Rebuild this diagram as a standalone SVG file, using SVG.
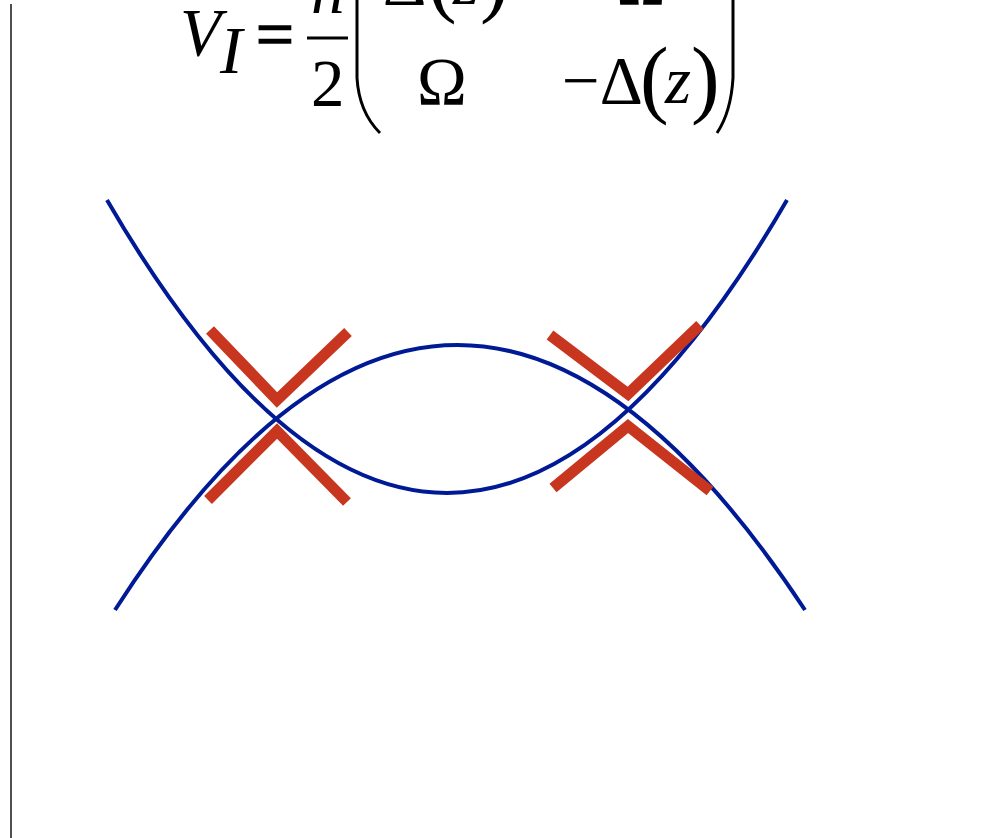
<svg xmlns="http://www.w3.org/2000/svg" width="1005" height="838" viewBox="0 0 1005 838">
<style>
.eq{font-family:"Liberation Serif","Times New Roman",serif;font-size:67px;fill:#000}
.it{font-style:italic}
.pa{font-size:86px}
.curve{fill:none;stroke:#001a96;stroke-width:4}
.mark{fill:none;stroke:#c8361f;stroke-width:11;stroke-linejoin:miter}
.br{fill:none;stroke:#000;stroke-width:3}
</style>
<rect width="1005" height="838" fill="#fff"/>
<line x1="11" y1="4" x2="11" y2="838" stroke="#222" stroke-width="1.6"/>
<g id="equation">
<text class="eq it" x="180" y="55" font-size="64">V</text>
<text class="eq it" x="220" y="73" font-size="38">I</text>
<text class="eq" x="256" y="57" stroke="#000" stroke-width="1.6">=</text>
<text class="eq it" x="311" y="13">ħ</text>
<line x1="307" y1="38" x2="348" y2="38" stroke="#000" stroke-width="3"/>
<text class="eq" x="311" y="106">2</text>
<path class="br" d="M357,-30 L357,78 Q359,112 380,133"/>
<path class="br" d="M733,-30 L733,78 Q731,112 717,133"/>
<text class="eq" y="4"><tspan x="383">Δ</tspan><tspan class="pa" x="428" dy="2">(</tspan><tspan class="it" x="453" dy="-2">z</tspan><tspan class="pa" x="480" dy="2">)</tspan></text>
<text class="eq" x="616" y="4">Ω</text>
<text class="eq" x="417" y="104">Ω</text>
<text class="eq" y="103"><tspan x="562">−Δ</tspan><tspan class="pa" x="640" dy="4">(</tspan><tspan class="it" x="665" dy="-4">z</tspan><tspan class="pa" x="691" dy="4">)</tspan></text>
</g>
<g id="curves">
<path class="curve" d="M107,200 Q447,786 787,200"/>
<path class="curve" d="M115,610 Q455,80 805,610"/>
</g>
<g id="marks">
<polyline class="mark" points="210,330 277,400 348,332"/>
<polyline class="mark" points="208,500 277,431 347,502"/>
<polyline class="mark" points="550,335 628,394 700,325"/>
<polyline class="mark" points="553,488 628,426 710,491"/>
</g>
</svg>
